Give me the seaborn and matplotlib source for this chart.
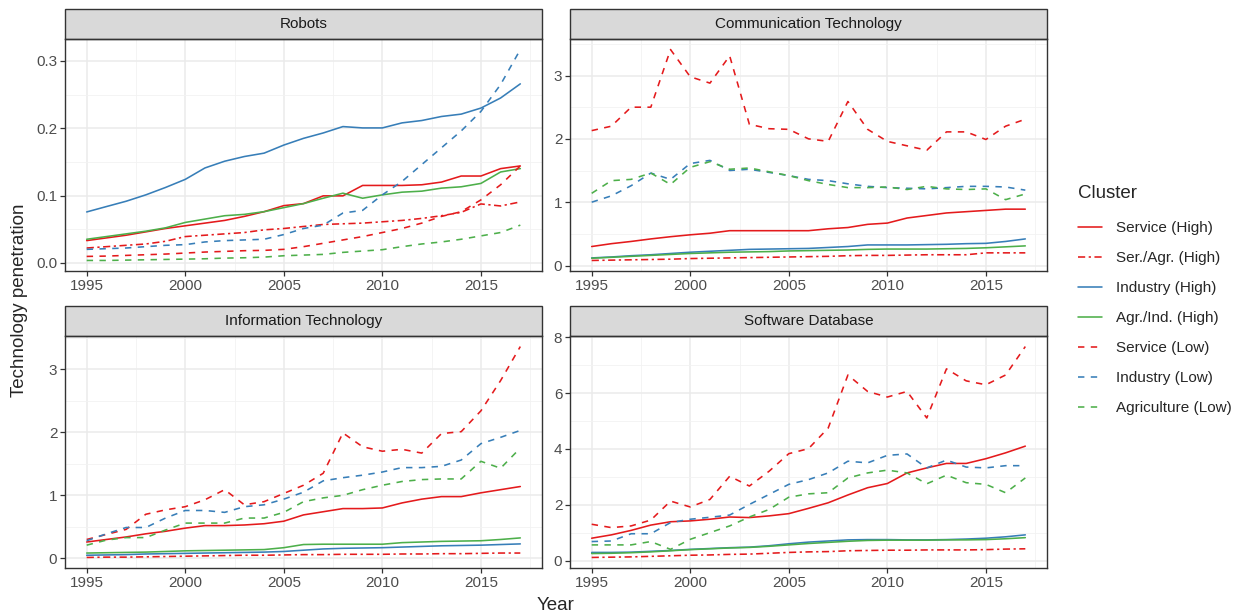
import numpy as np
import pandas as pd
import seaborn as sns
import matplotlib.pyplot as plt
from matplotlib.patches import Rectangle
from matplotlib.ticker import AutoMinorLocator, MultipleLocator
from matplotlib.lines import Line2D

years = list(range(1995, 2018))
clusters = ['Service (High)', 'Ser./Agr. (High)', 'Industry (High)', 'Agr./Ind. (High)',
            'Service (Low)', 'Industry (Low)', 'Agriculture (Low)']
panels = ['Robots', 'Communication Technology', 'Information Technology', 'Software Database']

robots = {
    'Service (High)': [0.033, 0.037, 0.041, 0.046, 0.051, 0.055, 0.059, 0.063, 0.069, 0.076, 0.085, 0.088,
                       0.0995, 0.0995, 0.115, 0.115, 0.115, 0.116, 0.12, 0.129, 0.129, 0.14, 0.144],
    'Ser./Agr. (High)': [0.022, 0.024, 0.026, 0.028, 0.032, 0.039, 0.041, 0.043, 0.045, 0.049, 0.051, 0.054,
                         0.057, 0.058, 0.059, 0.061, 0.063, 0.066, 0.070, 0.075, 0.0875, 0.0845, 0.0905],
    'Industry (High)': [0.0756, 0.0836, 0.0915, 0.101, 0.112, 0.124, 0.141, 0.151, 0.158, 0.163, 0.175, 0.185,
                        0.193, 0.2025, 0.2005, 0.2005, 0.208, 0.2115, 0.2175, 0.221, 0.230, 0.245, 0.266],
    'Agr./Ind. (High)': [0.035, 0.039, 0.043, 0.047, 0.052, 0.060, 0.065, 0.070, 0.072, 0.076, 0.082, 0.088,
                         0.096, 0.1035, 0.096, 0.101, 0.105, 0.1065, 0.111, 0.113, 0.118, 0.135, 0.14],
    'Service (Low)': [0.0095, 0.010, 0.011, 0.012, 0.013, 0.0145, 0.016, 0.017, 0.018, 0.0185, 0.020, 0.024,
                      0.029, 0.034, 0.039, 0.045, 0.051, 0.059, 0.069, 0.076, 0.0935, 0.116, 0.144],
    'Industry (Low)': [0.020, 0.021, 0.022, 0.024, 0.026, 0.027, 0.031, 0.033, 0.034, 0.035, 0.042, 0.051,
                       0.056, 0.074, 0.078, 0.101, 0.121, 0.146, 0.171, 0.196, 0.225, 0.265, 0.317],
    'Agriculture (Low)': [0.0035, 0.0035, 0.004, 0.0045, 0.005, 0.0055, 0.006, 0.007, 0.0075, 0.0085, 0.0105,
                          0.0115, 0.0125, 0.0155, 0.0175, 0.0195, 0.024, 0.028, 0.031, 0.035, 0.040, 0.045, 0.056],
}

comm_tech = {
    'Service (High)': [0.30, 0.345, 0.38, 0.42, 0.455, 0.485, 0.51, 0.55, 0.55, 0.55, 0.55, 0.55,
                       0.58, 0.60, 0.65, 0.67, 0.75, 0.79, 0.83, 0.85, 0.87, 0.89, 0.89],
    'Ser./Agr. (High)': [0.08, 0.085, 0.09, 0.095, 0.10, 0.11, 0.115, 0.12, 0.125, 0.13, 0.135, 0.14,
                         0.145, 0.155, 0.16, 0.16, 0.165, 0.17, 0.17, 0.17, 0.2, 0.2, 0.2],
    'Industry (High)': [0.12, 0.135, 0.155, 0.17, 0.19, 0.21, 0.225, 0.24, 0.255, 0.26, 0.265, 0.27,
                        0.285, 0.30, 0.325, 0.325, 0.325, 0.33, 0.335, 0.345, 0.35, 0.38, 0.42],
    'Agr./Ind. (High)': [0.115, 0.13, 0.145, 0.16, 0.175, 0.19, 0.2, 0.21, 0.215, 0.22, 0.23, 0.235,
                         0.24, 0.245, 0.255, 0.26, 0.26, 0.26, 0.265, 0.27, 0.28, 0.295, 0.31],
    'Service (Low)': [2.13, 2.20, 2.50, 2.50, 3.41, 2.98, 2.88, 3.31, 2.23, 2.16, 2.15, 2.00,
                      1.96, 2.59, 2.15, 1.96, 1.89, 1.82, 2.11, 2.11, 1.99, 2.20, 2.31],
    'Industry (Low)': [1.00, 1.10, 1.26, 1.46, 1.36, 1.61, 1.66, 1.50, 1.52, 1.47, 1.42, 1.36,
                       1.34, 1.29, 1.25, 1.23, 1.22, 1.21, 1.23, 1.25, 1.25, 1.24, 1.19],
    'Agriculture (Low)': [1.14, 1.34, 1.36, 1.46, 1.28, 1.55, 1.64, 1.52, 1.54, 1.48, 1.42, 1.34,
                          1.28, 1.23, 1.23, 1.24, 1.20, 1.25, 1.21, 1.20, 1.21, 1.04, 1.13],
}

info_tech = {
    'Service (High)': [0.26, 0.30, 0.34, 0.39, 0.43, 0.48, 0.52, 0.52, 0.53, 0.55, 0.59, 0.69,
                       0.74, 0.79, 0.79, 0.80, 0.88, 0.94, 0.98, 0.98, 1.04, 1.09, 1.14],
    'Ser./Agr. (High)': [0.015, 0.02, 0.02, 0.025, 0.03, 0.035, 0.04, 0.045, 0.05, 0.05, 0.055, 0.06,
                         0.06, 0.065, 0.065, 0.065, 0.07, 0.07, 0.075, 0.075, 0.08, 0.085, 0.085],
    'Industry (High)': [0.05, 0.055, 0.06, 0.07, 0.075, 0.08, 0.085, 0.09, 0.095, 0.10, 0.11, 0.13,
                        0.15, 0.16, 0.165, 0.17, 0.18, 0.19, 0.2, 0.205, 0.21, 0.22, 0.23],
    'Agr./Ind. (High)': [0.085, 0.09, 0.095, 0.10, 0.11, 0.12, 0.125, 0.13, 0.135, 0.14, 0.17, 0.22,
                         0.225, 0.225, 0.225, 0.225, 0.25, 0.26, 0.27, 0.275, 0.28, 0.30, 0.325],
    'Service (Low)': [0.30, 0.38, 0.46, 0.70, 0.77, 0.82, 0.93, 1.09, 0.85, 0.90, 1.03, 1.16,
                      1.35, 1.99, 1.77, 1.70, 1.73, 1.67, 1.98, 2.01, 2.34, 2.82, 3.36],
    'Industry (Low)': [0.28, 0.39, 0.49, 0.49, 0.64, 0.76, 0.76, 0.73, 0.82, 0.85, 0.94, 1.05,
                       1.23, 1.28, 1.32, 1.37, 1.44, 1.44, 1.46, 1.56, 1.82, 1.92, 2.03],
    'Agriculture (Low)': [0.21, 0.29, 0.33, 0.33, 0.45, 0.56, 0.56, 0.56, 0.64, 0.64, 0.73, 0.90,
                          0.96, 1.00, 1.09, 1.16, 1.22, 1.25, 1.26, 1.26, 1.54, 1.43, 1.75],
}

software_db = {
    'Service (High)': [0.80, 0.92, 1.08, 1.27, 1.39, 1.42, 1.48, 1.56, 1.54, 1.60, 1.68, 1.87,
                       2.07, 2.35, 2.61, 2.76, 3.14, 3.32, 3.48, 3.48, 3.65, 3.86, 4.10],
    'Ser./Agr. (High)': [0.11, 0.12, 0.13, 0.15, 0.17, 0.19, 0.20, 0.22, 0.23, 0.26, 0.29, 0.31,
                         0.32, 0.35, 0.36, 0.37, 0.37, 0.38, 0.38, 0.38, 0.39, 0.41, 0.42],
    'Industry (High)': [0.29, 0.29, 0.30, 0.33, 0.36, 0.40, 0.43, 0.46, 0.48, 0.53, 0.60, 0.66,
                        0.70, 0.74, 0.75, 0.75, 0.74, 0.74, 0.75, 0.77, 0.80, 0.85, 0.92],
    'Agr./Ind. (High)': [0.25, 0.26, 0.28, 0.31, 0.35, 0.39, 0.42, 0.45, 0.47, 0.51, 0.56, 0.61,
                         0.65, 0.69, 0.72, 0.73, 0.73, 0.73, 0.74, 0.74, 0.75, 0.78, 0.82],
    'Service (Low)': [1.30, 1.18, 1.24, 1.45, 2.13, 1.92, 2.19, 3.02, 2.67, 3.20, 3.83, 4.01,
                      4.75, 6.65, 6.06, 5.86, 6.06, 5.11, 6.87, 6.44, 6.30, 6.65, 7.67],
    'Industry (Low)': [0.68, 0.70, 0.96, 0.96, 1.36, 1.48, 1.55, 1.63, 2.01, 2.37, 2.73, 2.90,
                       3.14, 3.56, 3.50, 3.77, 3.82, 3.32, 3.60, 3.35, 3.32, 3.40, 3.40],
    'Agriculture (Low)': [0.56, 0.56, 0.56, 0.68, 0.40, 0.76, 1.00, 1.24, 1.56, 1.83, 2.27, 2.39,
                          2.43, 2.96, 3.14, 3.24, 3.14, 2.75, 3.06, 2.79, 2.73, 2.43, 2.96],
}

panel_data = {'Robots': robots, 'Communication Technology': comm_tech,
              'Information Technology': info_tech, 'Software Database': software_db}

# long format table for seaborn
rows = []
for p in panels:
    for c in clusters:
        for y, v in zip(years, panel_data[p][c]):
            rows.append((p, c, y, v))
df = pd.DataFrame(rows, columns=['panel', 'cluster', 'year', 'value'])

red, blue, green = '#E41A1C', '#377EB8', '#4DAF4A'
palette = {'Service (High)': red, 'Ser./Agr. (High)': red, 'Industry (High)': blue,
           'Agr./Ind. (High)': green, 'Service (Low)': red, 'Industry (Low)': blue,
           'Agriculture (Low)': green}
dd = (4.5, 2.2, 1.4, 2.2)
dsh = (4, 4)
dashes = {'Service (High)': '', 'Ser./Agr. (High)': dd, 'Industry (High)': '',
          'Agr./Ind. (High)': '', 'Service (Low)': dsh, 'Industry (Low)': dsh,
          'Agriculture (Low)': dsh}

sns.set_style('whitegrid')
plt.rcParams['font.family'] = ['Liberation Sans', 'DejaVu Sans']

fig = plt.figure(figsize=(12.4, 6.13), dpi=100)
W, H = 1240, 613
boxes = {'Robots': (65, 39), 'Communication Technology': (570, 39),
         'Information Technology': (65, 336), 'Software Database': (570, 336)}
pw, ph = 477, 232
yticks = {'Robots': 0.1, 'Communication Technology': 1, 'Information Technology': 1,
          'Software Database': 2}

lw = 1.15
for p in panels:
    x0, y0 = boxes[p]
    ax = fig.add_axes([x0 / W, 1 - (y0 + ph) / H, pw / W, ph / H])
    sub = df[df.panel == p]
    sns.lineplot(data=sub, x='year', y='value', hue='cluster', style='cluster',
                 hue_order=clusters, style_order=clusters, palette=palette,
                 dashes=dashes, linewidth=lw, ax=ax, legend=False)
    ax.set_xlabel('')
    ax.set_ylabel('')
    ax.xaxis.set_major_locator(MultipleLocator(5))
    ax.yaxis.set_major_locator(MultipleLocator(yticks[p]))
    ax.xaxis.set_minor_locator(AutoMinorLocator(2))
    ax.yaxis.set_minor_locator(AutoMinorLocator(2))
    if p == 'Robots':
        ax.yaxis.set_major_formatter(plt.FormatStrFormatter('%.1f'))
    ax.grid(which='major', color='#EBEBEB', linewidth=1.1)
    ax.grid(which='minor', color='#F2F2F2', linewidth=0.6)
    ax.set_axisbelow(True)
    for s in ax.spines.values():
        s.set_color('#333333')
        s.set_linewidth(1.0)
    ax.tick_params(axis='both', which='major', length=3.5, width=0.9, color='#333333',
                   labelsize=11, labelcolor='#4D4D4D', pad=2, bottom=True, left=True)
    ax.tick_params(which='minor', length=0)
    # facet strip
    sh = 30 / ph
    ax.add_patch(Rectangle((0, 1), 1, sh, transform=ax.transAxes, facecolor='#D9D9D9',
                           edgecolor='#333333', linewidth=1.0, clip_on=False))
    ax.text(0.5, 1 + sh / 2, p, transform=ax.transAxes, ha='center', va='center',
            fontsize=11, color='#1A1A1A')

fig.text(556 / W, 1 - 605 / H, 'Year', ha='center', va='center', fontsize=13.5)
fig.text(20 / W, 1 - 300 / H, 'Technology penetration', ha='center', va='center',
         rotation=90, fontsize=13.5)

handles = []
for c in clusters:
    d = dashes[c]
    h = Line2D([], [], color=palette[c], linewidth=lw)
    if d:
        h.set_dashes(d)
    handles.append(h)
leg = fig.legend(handles, clusters, title='Cluster', loc='center left',
                 bbox_to_anchor=(1064 / W, 1 - 300 / H), frameon=False, fontsize=11,
                 title_fontsize=13.5, handlelength=1.6, handletextpad=0.9,
                 labelspacing=1.05, alignment='left')
leg._legend_box.sep = 14

fig.savefig('out.png', dpi=100)
